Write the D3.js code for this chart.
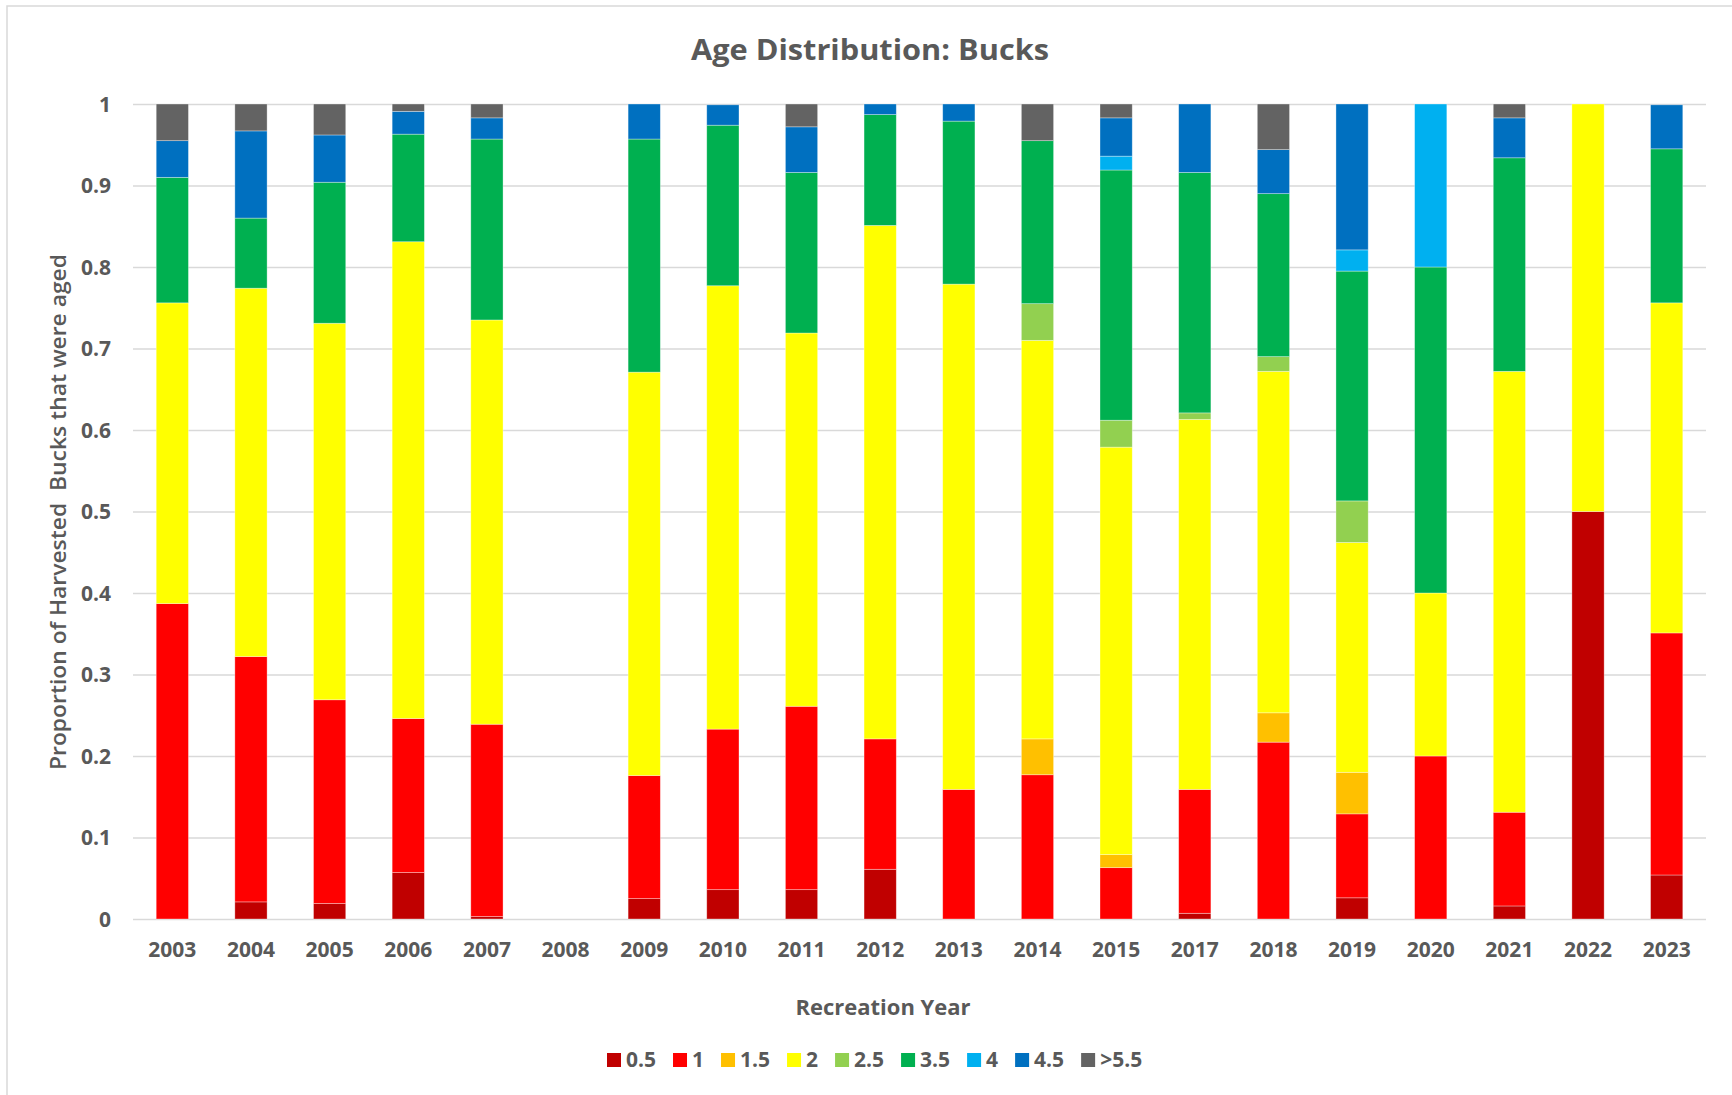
<!DOCTYPE html>
<html>
<head>
<meta charset="utf-8">
<script src="https://cdn.jsdelivr.net/npm/d3@7"></script>
<style>
  html, body { margin: 0; padding: 0; background: #ffffff; }
  svg { display: block; }
  text { font-family: "Open Sans", "Liberation Sans", sans-serif; fill: #595959; }
</style>
</head>
<body>
<svg id="chart" width="1732" height="1095"></svg>
<script>
// ---------------- data ----------------
const years = ["2003","2004","2005","2006","2007","2008","2009","2010","2011","2012",
               "2013","2014","2015","2017","2018","2019","2020","2021","2022","2023"];

const ageKeys   = ["0.5","1","1.5","2","2.5","3.5","4","4.5",">5.5"];
const ageColors = ["#C00000","#FF0000","#FFC000","#FFFF00","#92D050","#00B050","#00B0F0","#0070C0","#636363"];

const age05 = [0, 0.021, 0.019, 0.057, 0.003, 0, 0.025, 0.036, 0.036, 0.061,
               0, 0, 0, 0.007, 0, 0.026, 0, 0.016, 0.5, 0.054];
const age1  = [0.387, 0.301, 0.250, 0.189, 0.236, 0, 0.151, 0.197, 0.225, 0.160,
               0.159, 0.177, 0.063, 0.152, 0.217, 0.103, 0.2, 0.115, 0, 0.297];
const age15 = [0, 0, 0, 0, 0, 0, 0, 0, 0, 0,
               0, 0.044, 0.016, 0, 0.036, 0.051, 0, 0, 0, 0];
const age2  = [0.369, 0.452, 0.462, 0.585, 0.496, 0, 0.495, 0.544, 0.458, 0.630,
               0.620, 0.489, 0.500, 0.454, 0.419, 0.282, 0.2, 0.541, 0.5, 0.405];
const age25 = [0, 0, 0, 0, 0, 0, 0, 0, 0, 0,
               0, 0.045, 0.033, 0.008, 0.018, 0.051, 0, 0, 0, 0];
const age35 = [0.154, 0.086, 0.173, 0.132, 0.222, 0, 0.286, 0.197, 0.197, 0.136,
               0.200, 0.200, 0.307, 0.295, 0.200, 0.282, 0.4, 0.262, 0, 0.189];
const age4  = [0, 0, 0, 0, 0, 0, 0, 0, 0, 0,
               0, 0, 0.017, 0, 0, 0.026, 0.2, 0, 0, 0];
const age45 = [0.045, 0.107, 0.058, 0.028, 0.026, 0, 0.043, 0.025, 0.056, 0.013,
               0.021, 0, 0.047, 0.084, 0.054, 0.179, 0, 0.049, 0, 0.054];
const age55 = [0.045, 0.033, 0.038, 0.009, 0.017, 0, 0, 0, 0.028, 0,
               0, 0.045, 0.017, 0, 0.056, 0, 0, 0.017, 0, 0];

const yTickValues = [0, 0.1, 0.2, 0.3, 0.4, 0.5, 0.6, 0.7, 0.8, 0.9, 1];
const yTickLabels = ["0","0.1","0.2","0.3","0.4","0.5","0.6","0.7","0.8","0.9","1"];

const titleText  = "Age Distribution: Bucks";
const xTitleText = "Recreation Year";
const yTitleText = "Proportion of Harvested  Bucks that were aged";

// ---------------- build table ----------------
const seriesArrays = [age05, age1, age15, age2, age25, age35, age4, age45, age55];
const table = years.map((yr, i) => {
  const row = { year: yr };
  ageKeys.forEach((k, j) => { row[k] = seriesArrays[j][i]; });
  return row;
});

// ---------------- layout ----------------
const W = 1732, H = 1095;
const plot = { left: 133, right: 1706, top: 104, bottom: 919 };

const svg = d3.select("#chart");

// chart area border
svg.append("rect")
  .attr("x", 7).attr("y", 6)
  .attr("width", W + 20).attr("height", H + 20)
  .attr("fill", "#ffffff")
  .attr("stroke", "#d9d9d9").attr("stroke-width", 1.5);

const x = d3.scaleBand()
  .domain(years)
  .range([plot.left, plot.right])
  .paddingInner(0.59)
  .paddingOuter(0.295);

const y = d3.scaleLinear().domain([0, 1]).range([plot.bottom, plot.top]);

const color = d3.scaleOrdinal().domain(ageKeys).range(ageColors);

// gridlines + y tick labels
const yAxis = d3.axisLeft(y)
  .tickValues(yTickValues)
  .tickSize(-(plot.right - plot.left))
  .tickPadding(22)
  .tickFormat((d, i) => yTickLabels[i]);

const gy = svg.append("g")
  .attr("transform", `translate(${plot.left},0)`)
  .call(yAxis);
gy.select(".domain").remove();
gy.selectAll(".tick line").attr("stroke", "#d9d9d9").attr("stroke-width", 1.5);
gy.selectAll(".tick text")
  .attr("font-size", 21).attr("font-weight", 700)
  .attr("fill", "#595959")
  .attr("x", 111 - plot.left)
  .attr("dy", "0.35em");

// stacked bars
const stack = d3.stack().keys(ageKeys);
const stacked = stack(table);

svg.append("g").selectAll("g")
  .data(stacked)
  .join("g")
  .attr("fill", d => color(d.key))
  .selectAll("rect")
  .data(d => d.filter(s => s[1] - s[0] > 0))
  .join("rect")
  .attr("x", d => x(d.data.year))
  .attr("width", x.bandwidth())
  .attr("y", d => y(d[1]))
  .attr("height", d => y(d[0]) - y(d[1]))
  .attr("stroke", "rgba(255,255,255,0.45)")
  .attr("stroke-width", 0.75);

// x axis
const xAxis = d3.axisBottom(x).tickSize(0).tickPadding(0);
const gx = svg.append("g")
  .attr("transform", `translate(0,${plot.bottom})`)
  .call(xAxis);
gx.select(".domain").remove();
gx.selectAll(".tick text")
  .attr("font-size", 21).attr("font-weight", 700)
  .attr("fill", "#595959")
  .attr("y", 38).attr("dy", 0);

// title
svg.append("text")
  .attr("x", 870).attr("y", 60)
  .attr("text-anchor", "middle")
  .attr("font-size", 29).attr("font-weight", 700)
  .attr("textLength", 358).attr("lengthAdjust", "spacingAndGlyphs")
  .text(titleText);

// x title
svg.append("text")
  .attr("x", 883).attr("y", 1015)
  .attr("text-anchor", "middle")
  .attr("font-size", 22).attr("font-weight", 700)
  .attr("textLength", 175).attr("lengthAdjust", "spacingAndGlyphs")
  .text(xTitleText);

// y title
svg.append("text")
  .attr("transform", "translate(66,512) rotate(-90)")
  .attr("text-anchor", "middle")
  .attr("font-size", 21).attr("font-weight", 600)
  .attr("textLength", 516).attr("lengthAdjust", "spacingAndGlyphs")
  .style("white-space", "pre")
  .text(yTitleText);

// legend
const legend = svg.append("g");
let lx = 607;
const ly = 1060;
ageKeys.forEach((k, i) => {
  const g = legend.append("g");
  g.append("rect")
    .attr("x", lx).attr("y", ly - 7)
    .attr("width", 14).attr("height", 14)
    .attr("fill", ageColors[i]);
  const t = g.append("text")
    .attr("x", lx + 19).attr("y", ly)
    .attr("dy", "0.35em")
    .attr("font-size", 21).attr("font-weight", 700)
    .text(k);
  lx += 19 + t.node().getComputedTextLength() + 17;
});
</script>
</body>
</html>
